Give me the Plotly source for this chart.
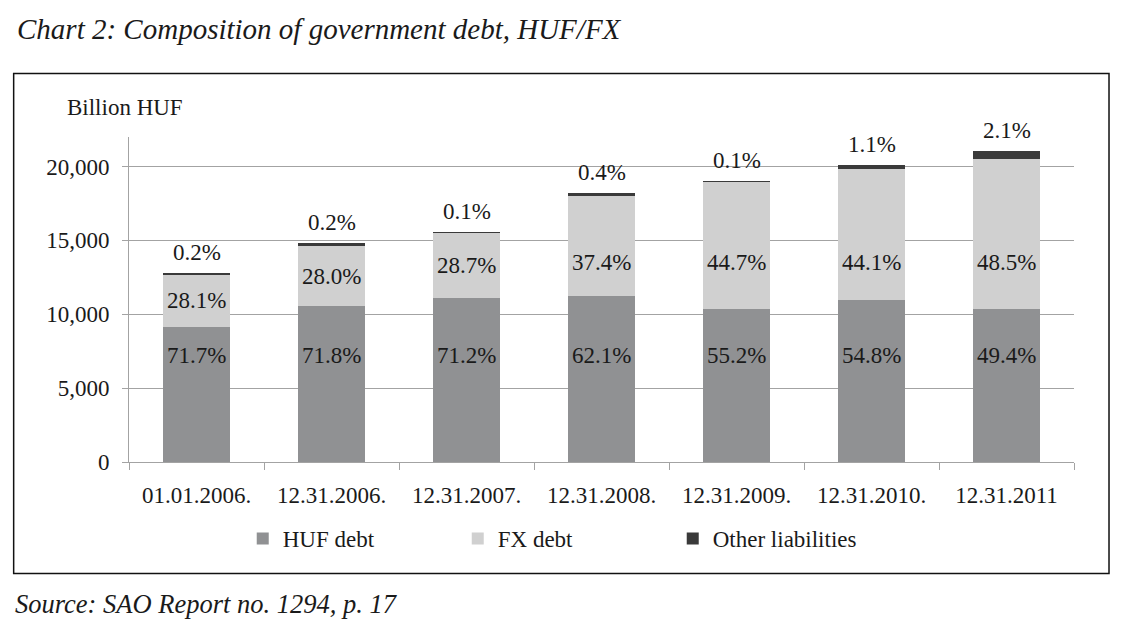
import plotly.graph_objects as go

# ── DATA (billion HUF) ───────────────────────────────────────
dates = ['01.01.2006.', '12.31.2006.', '12.31.2007.', '12.31.2008.',
         '12.31.2009.', '12.31.2010.', '12.31.2011']
huf_debt = [9170, 10550, 11070, 11210, 10390, 11000, 10330]
fx_debt = [3500, 4050, 4460, 6800, 8590, 8840, 10170]
other_liab = [140, 200, 15, 180, 20, 270, 540]

# share labels as printed on the chart
huf_pct = ['71.7%', '71.8%', '71.2%', '62.1%', '55.2%', '54.8%', '49.4%']
fx_pct = ['28.1%', '28.0%', '28.7%', '37.4%', '44.7%', '44.1%', '48.5%']
other_pct = ['0.2%', '0.2%', '0.1%', '0.4%', '0.1%', '1.1%', '2.1%']

y_ticks = [0, 5000, 10000, 15000, 20000]

# ── STYLE ────────────────────────────────────────────────────
SERIF = 'Liberation Serif'
TXT = '#1a1a1a'
GRID = '#a3a3a3'
C_HUF = '#909193'
C_FX = '#d0d0d0'
C_OTHER = '#3a3a3a'

# page puts the figure 8px in from the top-left corner
OFF = 8
W, H = 1122 - OFF, 634 - OFF
L, R, T, B = 129.3 - OFF, 48, 136.7 - OFF, 171.7
PW = W - L - R
PH = H - T - B


def px_x(px):
    return (px - OFF - L) / PW


def px_y(py):
    return (H - B - (py - OFF)) / PH


fig = go.Figure()
fig.add_trace(go.Bar(x=dates, y=huf_debt, name='HUF debt',
                     marker=dict(color=C_HUF, line=dict(width=0))))
fig.add_trace(go.Bar(x=dates, y=fx_debt, name='FX debt',
                     marker=dict(color=C_FX, line=dict(width=0))))
fig.add_trace(go.Bar(x=dates, y=other_liab, name='Other liabilities',
                     marker=dict(color=C_OTHER, line=dict(width=0))))

# ── DATA LABELS ──────────────────────────────────────────────
label_font = dict(family=SERIF, size=23, color=TXT)
for i, d in enumerate(dates):
    total = huf_debt[i] + fx_debt[i] + other_liab[i]
    fig.add_annotation(x=d, y=7200, text=huf_pct[i], showarrow=False,
                       font=label_font, yanchor='middle')
    fx_mid = min(huf_debt[i] + fx_debt[i] / 2, 13500)
    fig.add_annotation(x=d, y=fx_mid, text=fx_pct[i], showarrow=False,
                       font=label_font, yanchor='middle')
    fig.add_annotation(x=d, y=total, text=other_pct[i], showarrow=False,
                       font=label_font, yanchor='bottom', yshift=6)

# ── TEXTS AROUND THE CHART ───────────────────────────────────
fig.add_annotation(xref='paper', yref='paper', x=px_x(15), y=px_y(29),
                   xanchor='left', yanchor='middle', showarrow=False,
                   text='<i>Chart 2: Composition of government debt, HUF/FX</i>',
                   font=dict(family=SERIF, size=29, color=TXT))
fig.add_annotation(xref='paper', yref='paper', x=px_x(65), y=px_y(107),
                   xanchor='left', yanchor='middle', showarrow=False,
                   text='Billion HUF', font=dict(family=SERIF, size=23, color=TXT))
fig.add_annotation(xref='paper', yref='paper', x=px_x(13), y=px_y(605),
                   xanchor='left', yanchor='middle', showarrow=False,
                   text='<i>Source: SAO Report no. 1294, p. 17</i>',
                   font=dict(family=SERIF, size=26.5, color=TXT))

# frame around the chart body
fig.add_shape(type='rect', xref='paper', yref='paper',
              x0=px_x(14), x1=px_x(1109), y0=px_y(574), y1=px_y(73),
              line=dict(color='#111111', width=1.5), layer='below')

fig.update_layout(
    width=W, height=H, autosize=False,
    margin=dict(l=L, r=R, t=T, b=B),
    barmode='stack', bargap=0.5,
    plot_bgcolor='white', paper_bgcolor='white',
    font=dict(family=SERIF, size=23, color=TXT),
    legend=dict(orientation='h', x=px_x(243), y=px_y(539),
                xanchor='left', yanchor='middle', traceorder='normal',
                entrywidth=170, entrywidthmode='pixels',
                font=dict(family=SERIF, size=23, color=TXT),
                itemclick=False, itemdoubleclick=False),
    xaxis=dict(type='category', showline=True, linecolor=GRID, linewidth=1,
               ticks='outside', tickson='boundaries', ticklen=7,
               tickcolor=GRID, showgrid=False, ticklabelstandoff=12,
               tickfont=dict(family=SERIF, size=23, color=TXT)),
    yaxis=dict(range=[0, 22000], tickvals=y_ticks, tickformat=',d',
               showline=True, linecolor=GRID, linewidth=1,
               ticks='outside', ticklen=6, tickcolor=GRID,
               showgrid=True, gridcolor=GRID, gridwidth=1,
               zeroline=False, ticklabelstandoff=8,
               tickfont=dict(family=SERIF, size=23, color=TXT)),
)

fig.write_html('out.html')
